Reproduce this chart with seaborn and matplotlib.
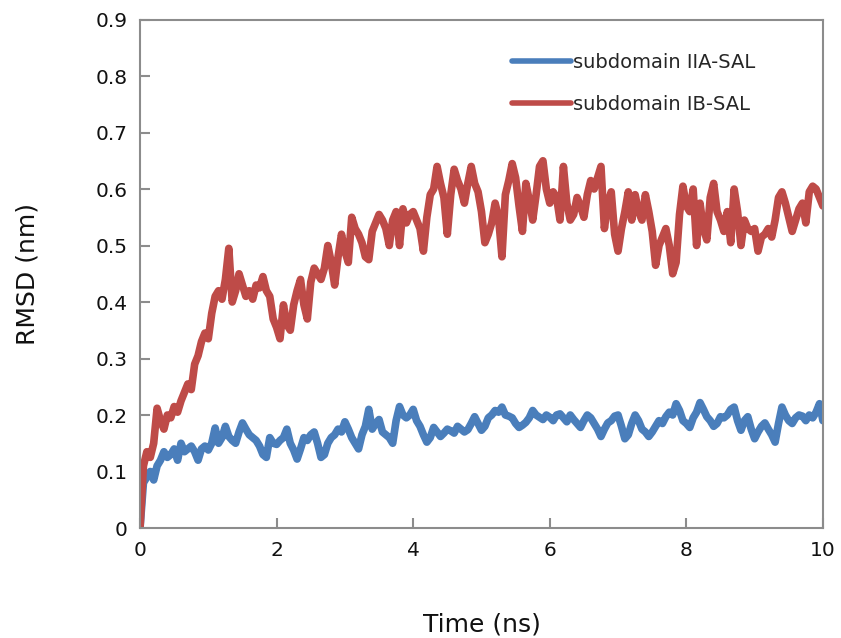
import numpy as np
import pandas as pd
import matplotlib
matplotlib.use("Agg")
import matplotlib.pyplot as plt
import seaborn as sns

# ------------------------------------------------------------
# DATA (0.05 ns steps)
# ------------------------------------------------------------

time_ns = np.round(np.arange(0, 201) * 0.05, 2)

rmsd_iia = [
    0.000, 0.080, 0.090, 0.100, 0.085, 0.110, 0.120, 0.135, 0.125, 0.130,
    0.140, 0.120, 0.150, 0.135, 0.140, 0.145, 0.135, 0.120, 0.140, 0.145,
    0.138, 0.150, 0.177, 0.150, 0.160, 0.180, 0.162, 0.155, 0.150, 0.170,
    0.186, 0.175, 0.165, 0.160, 0.155, 0.145, 0.130, 0.125, 0.160, 0.150,
    0.148, 0.155, 0.160, 0.175, 0.150, 0.138, 0.122, 0.140, 0.160, 0.155,
    0.165, 0.170, 0.150, 0.125, 0.130, 0.150, 0.160, 0.165, 0.175, 0.170,
    0.188, 0.175, 0.160, 0.150, 0.140, 0.165, 0.180, 0.210, 0.175, 0.185,
    0.192, 0.170, 0.165, 0.160, 0.150, 0.190, 0.215, 0.200, 0.195, 0.200,
    0.210, 0.190, 0.180, 0.165, 0.152, 0.160, 0.178, 0.170, 0.162, 0.168,
    0.175, 0.172, 0.168, 0.180, 0.175, 0.170, 0.174, 0.185, 0.197, 0.185,
    0.173, 0.180, 0.195, 0.200, 0.208, 0.205, 0.214, 0.200, 0.198, 0.195,
    0.185, 0.178, 0.182, 0.187, 0.195, 0.208, 0.200, 0.196, 0.192, 0.200,
    0.196, 0.190, 0.200, 0.202, 0.195, 0.188, 0.200, 0.192, 0.185, 0.178,
    0.190, 0.200, 0.195, 0.185, 0.175, 0.162, 0.175, 0.186, 0.190, 0.198,
    0.200, 0.180, 0.158, 0.165, 0.185, 0.200, 0.190, 0.175, 0.170, 0.162,
    0.170, 0.180, 0.190, 0.185, 0.197, 0.205, 0.200, 0.220, 0.208, 0.190,
    0.185, 0.178, 0.195, 0.205, 0.222, 0.210, 0.197, 0.190, 0.180, 0.185,
    0.197, 0.195, 0.200, 0.210, 0.214, 0.190, 0.173, 0.190, 0.197, 0.175,
    0.158, 0.170, 0.180, 0.186, 0.175, 0.165, 0.152, 0.185, 0.214, 0.200,
    0.190, 0.185, 0.195, 0.200, 0.198, 0.190, 0.200, 0.195, 0.205, 0.220,
    0.190,
]

rmsd_ib = [
    0.000, 0.110, 0.135, 0.125, 0.150, 0.212, 0.190, 0.175, 0.200, 0.195,
    0.215, 0.205, 0.225, 0.240, 0.255, 0.245, 0.290, 0.305, 0.330, 0.345,
    0.335, 0.380, 0.410, 0.420, 0.405, 0.440, 0.495, 0.400, 0.420, 0.450,
    0.430, 0.410, 0.420, 0.405, 0.430, 0.425, 0.445, 0.420, 0.410, 0.370,
    0.355, 0.335, 0.395, 0.360, 0.350, 0.395, 0.420, 0.440, 0.395, 0.370,
    0.435, 0.460, 0.450, 0.440, 0.460, 0.500, 0.470, 0.430, 0.480, 0.520,
    0.490, 0.470, 0.550, 0.530, 0.520, 0.505, 0.480, 0.475, 0.525, 0.540,
    0.555, 0.545, 0.530, 0.500, 0.545, 0.560, 0.500, 0.565, 0.540, 0.555,
    0.560, 0.545, 0.530, 0.490, 0.550, 0.590, 0.600, 0.640, 0.610, 0.585,
    0.520, 0.590, 0.635, 0.615, 0.600, 0.575, 0.610, 0.640, 0.610, 0.595,
    0.560, 0.505, 0.520, 0.540, 0.575, 0.550, 0.480, 0.590, 0.615, 0.645,
    0.620, 0.570, 0.525, 0.610, 0.580, 0.545, 0.590, 0.640, 0.650, 0.600,
    0.575, 0.595, 0.585, 0.545, 0.640, 0.575, 0.545, 0.555, 0.585, 0.570,
    0.550, 0.590, 0.615, 0.600, 0.620, 0.640, 0.530, 0.575, 0.595, 0.520,
    0.490, 0.530, 0.560, 0.595, 0.545, 0.590, 0.560, 0.545, 0.590, 0.560,
    0.525, 0.465, 0.500, 0.515, 0.530, 0.500, 0.450, 0.470, 0.555, 0.605,
    0.570, 0.560, 0.600, 0.500, 0.575, 0.530, 0.510, 0.585, 0.610, 0.560,
    0.545, 0.525, 0.560, 0.505, 0.600, 0.560, 0.500, 0.545, 0.530, 0.525,
    0.530, 0.490, 0.515, 0.520, 0.530, 0.515, 0.545, 0.585, 0.595, 0.575,
    0.550, 0.525, 0.545, 0.565, 0.575, 0.540, 0.595, 0.605, 0.600, 0.585,
    0.570,
]

series_names = ["subdomain IIA-SAL", "subdomain IB-SAL"]
series_colors = ["#4A7EBB", "#BE4B48"]

x_ticks = [0, 2, 4, 6, 8, 10]
y_ticks = [0, 0.1, 0.2, 0.3, 0.4, 0.5, 0.6, 0.7, 0.8, 0.9]

df = pd.concat([
    pd.DataFrame({"time": time_ns, "rmsd": rmsd_iia, "series": series_names[0]}),
    pd.DataFrame({"time": time_ns, "rmsd": rmsd_ib, "series": series_names[1]}),
])

# ------------------------------------------------------------
# PLOT
# ------------------------------------------------------------

sns.set_theme(style="white")
plt.rcParams["font.family"] = ["DejaVu Sans"]

fig = plt.figure(figsize=(8.41, 6.38), dpi=100)
ax = fig.add_axes([0.1665, 0.1724, 0.812, 0.797])

sns.lineplot(
    data=df, x="time", y="rmsd", hue="series",
    palette=dict(zip(series_names, series_colors)),
    estimator=None, linewidth=5.5, ax=ax,
)

ax.set_xlim(0, 10)
ax.set_ylim(0, 0.9)
ax.set_xticks(x_ticks)
ax.set_yticks(y_ticks)
ax.set_yticklabels([f"{v:g}" for v in y_ticks])

for side in ["left", "right", "top", "bottom"]:
    ax.spines[side].set_visible(True)
    ax.spines[side].set_color("#8c8c8c")
    ax.spines[side].set_linewidth(1.5)

ax.tick_params(axis="both", direction="in", length=7, width=1.5,
               color="#8c8c8c", labelsize=14.5, labelcolor="#111111", pad=9,
               bottom=True, left=True)

ax.set_xlabel("Time (ns)", fontsize=18, color="#111111", labelpad=38)
ax.set_ylabel("RMSD (nm)", fontsize=18, color="#111111", labelpad=40)

leg = ax.legend(
    loc="upper left", bbox_to_anchor=(0.545, 0.935), frameon=False,
    fontsize=14, handlelength=3.0, handletextpad=0.15, labelspacing=1.2,
    borderpad=0, borderaxespad=0,
)
for h in leg.get_lines():
    h.set_linewidth(4)

fig.savefig("out.png", dpi=100)
